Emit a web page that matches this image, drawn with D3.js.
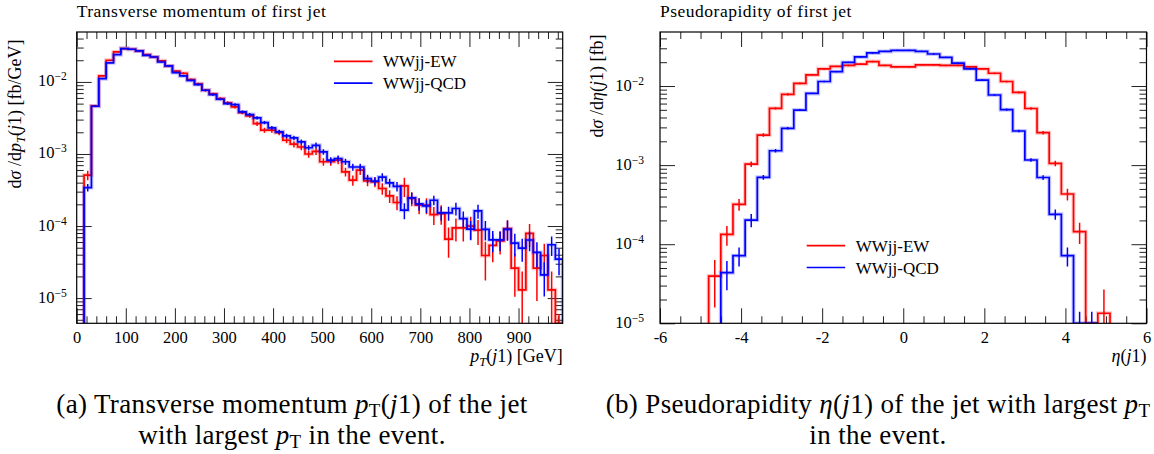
<!DOCTYPE html>
<html>
<head>
<meta charset="utf-8">
<title>WWjj leading jet</title>
<script src="https://cdn.jsdelivr.net/npm/d3@7"></script>
<style>
  body { margin: 0; background: #fff; }
  svg text { font-family: "Liberation Serif", "DejaVu Serif", serif; fill: #000; }
</style>
</head>
<body>
<div id="chart"></div>
<script>
// ---- values ----
const seriesNames = ["WWjj-EW", "WWjj-QCD"];
const seriesColors = ["#ff0000", "#0000ff"];

// pT(j1): 66 bins of 15 GeV, 0..990
const ptEdges = d3.range(0, 991, 15);
const ptEW = [0, 5.1e-4, 4.65e-3, 1.21e-2, 2.0e-2, 2.61e-2, 2.90e-2, 2.84e-2, 2.69e-2, 2.39e-2,
  2.22e-2, 1.96e-2, 1.67e-2, 1.41e-2, 1.32e-2, 1.08e-2, 9.4e-3, 7.66e-3, 6.82e-3, 5.88e-3,
  5.12e-3, 4.5e-3, 3.76e-3, 3.38e-3, 2.64e-3, 2.14e-3, 2.14e-3, 1.98e-3, 1.55e-3, 1.37e-3,
  1.25e-3, 1.0e-3, 1.09e-3, 7.8e-4, 7.8e-4, 8.2e-4, 5.65e-4, 4.33e-4, 5.96e-4, 4.24e-4,
  4.1e-4, 3.32e-4, 2.62e-4, 2.12e-4, 3.61e-4, 2.41e-4, 1.95e-4, 1.95e-4, 1.44e-4, 1.49e-4,
  6.6e-5, 9.4e-5, 9.4e-5, 1.0e-4, 8.8e-5, 3.9e-5, 5.4e-5, 6.2e-5, 9.2e-5, 2.6e-5,
  1.3e-5, 7.9e-5, 2.6e-5, 3.9e-5, 1.3e-5, 3e-6];
// relative stat. errors
const ptEWErr = [0, 0.15, 0.02, 0.015, 0.015, 0.015, 0.015, 0.015, 0.015, 0.02,
  0.02, 0.02, 0.025, 0.025, 0.03, 0.03, 0.035, 0.04, 0.04, 0.045,
  0.05, 0.05, 0.055, 0.06, 0.07, 0.08, 0.08, 0.08, 0.09, 0.1,
  0.1, 0.11, 0.11, 0.12, 0.12, 0.12, 0.14, 0.16, 0.14, 0.16,
  0.16, 0.18, 0.2, 0.22, 0.3, 0.22, 0.25, 0.25, 0.28, 0.3,
  0.45, 0.35, 0.35, 0.35, 0.38, 0.55, 0.42, 0.35, 0.32, 0.6,
  0.8, 0.35, 0.65, 0.45, 0.8, 1.0];
const ptQCD = [0, 3.42e-4, 4.6e-3, 1.11e-2, 1.84e-2, 2.39e-2, 2.90e-2, 2.84e-2, 2.69e-2, 2.34e-2,
  2.22e-2, 1.89e-2, 1.67e-2, 1.35e-2, 1.21e-2, 1.05e-2, 9.2e-3, 7.66e-3, 6.67e-3, 5.75e-3,
  5.0e-3, 4.85e-3, 3.84e-3, 3.52e-3, 3.17e-3, 2.73e-3, 2.30e-3, 2.03e-3, 1.78e-3, 1.67e-3,
  1.47e-3, 1.22e-3, 1.32e-3, 1.07e-3, 8.2e-4, 8.65e-4, 7.8e-4, 6.6e-4, 6.6e-4, 4.56e-4,
  4.2e-4, 4.78e-4, 3.97e-4, 3.55e-4, 1.66e-4, 2.46e-4, 2.03e-4, 1.9e-4, 2.28e-4, 1.52e-4,
  1.52e-4, 1.75e-4, 1.27e-4, 9.05e-5, 1.62e-4, 9.0e-5, 6.44e-5, 6.44e-5, 9.0e-5, 5.8e-5,
  4.93e-5, 6.4e-5, 4.3e-5, 2.1e-5, 5.5e-5, 3.47e-5];
const ptQCDErr = [0, 0.12, 0.02, 0.015, 0.012, 0.012, 0.012, 0.012, 0.012, 0.015,
  0.015, 0.018, 0.02, 0.02, 0.025, 0.025, 0.03, 0.03, 0.035, 0.035,
  0.04, 0.04, 0.045, 0.05, 0.05, 0.055, 0.06, 0.065, 0.07, 0.075,
  0.08, 0.085, 0.09, 0.09, 0.1, 0.1, 0.1, 0.11, 0.11, 0.13,
  0.13, 0.13, 0.14, 0.15, 0.25, 0.18, 0.2, 0.2, 0.15, 0.22,
  0.22, 0.2, 0.25, 0.3, 0.22, 0.3, 0.33, 0.3, 0.3, 0.35,
  0.35, 0.3, 0.38, 0.5, 0.3, 0.4];

// eta(j1): 40 bins of 0.3, -6..6
const etaEdges = d3.range(41).map(i => -6 + 0.3 * i);
const etaEW = [0, 0, 0, 0, 3.96e-5, 1.33e-4, 3.19e-4, 1.03e-3, 2.40e-3, 5.22e-3,
  7.85e-3, 1.08e-2, 1.38e-2, 1.65e-2, 1.77e-2, 1.82e-2, 1.89e-2, 2.04e-2, 1.82e-2, 1.75e-2,
  1.75e-2, 1.85e-2, 1.85e-2, 1.82e-2, 1.82e-2, 1.75e-2, 1.65e-2, 1.45e-2, 1.14e-2, 8.3e-3,
  5.2e-3, 2.57e-3, 1.05e-3, 4.31e-4, 1.44e-4, 0, 1.34e-5, 0, 0, 0];
const etaEWErr = [0, 0, 0, 0, 0.6, 0.28, 0.17, 0.08, 0.05, 0.035,
  0.03, 0.025, 0.02, 0.02, 0.02, 0.02, 0.02, 0.02, 0.02, 0.02,
  0.02, 0.02, 0.02, 0.02, 0.02, 0.02, 0.02, 0.025, 0.025, 0.03,
  0.035, 0.05, 0.08, 0.17, 0.3, 0, 1.0, 0, 0, 0];
const etaQCD = [0, 0, 0, 0, 0, 4.37e-5, 7.16e-5, 2.02e-4, 7.0e-4, 1.52e-3,
  2.92e-3, 4.97e-3, 8.07e-3, 1.14e-2, 1.52e-2, 1.99e-2, 2.33e-2, 2.62e-2, 2.74e-2, 2.82e-2,
  2.82e-2, 2.74e-2, 2.54e-2, 2.30e-2, 1.95e-2, 1.65e-2, 1.19e-2, 7.7e-3, 5.03e-3, 2.70e-3,
  1.16e-3, 6.97e-4, 2.39e-4, 7.16e-5, 7e-6, 7e-6, 0, 0, 0, 0];
const etaQCDErr = [0, 0, 0, 0, 0, 0.4, 0.27, 0.19, 0.07, 0.05,
  0.035, 0.03, 0.02, 0.02, 0.02, 0.02, 0.02, 0.02, 0.02, 0.02,
  0.02, 0.02, 0.02, 0.02, 0.02, 0.02, 0.02, 0.025, 0.03, 0.035,
  0.05, 0.07, 0.15, 0.27, 1.0, 1.0, 0, 0, 0, 0];

// tick values
const ptMajor = d3.range(0, 901, 100);
const ptMinor = d3.range(0, 990, 20).filter(v => v % 100 !== 0);
const etaMajor = [-6, -4, -2, 0, 2, 4, 6];
const etaMinor = d3.range(-6, 6.01, 0.5).filter(v => v % 2 !== 0);
const decades = [-5, -4, -3, -2];
const yMajor = decades.map(d => Math.pow(10, d));
const yMinor = [-6, -5, -4, -3, -2].flatMap(d => d3.range(2, 10).map(m => m * Math.pow(10, d)));

const width = 1154, height = 454;
const svg = d3.select("#chart").append("svg")
  .attr("width", width).attr("height", height);

// text with italic / sub / superscript pieces
function richText(text, parts) {
  let shift = 0;
  parts.forEach(p => {
    const s = p.sub ? 4 : p.sup ? -6 : 0;
    const ts = text.append("tspan").text(p.t).attr("dy", s - shift);
    shift = s;
    if (p.i) ts.attr("font-style", "italic");
    if (p.sub || p.sup) ts.attr("font-size", "0.7em");
  });
}

const panels = [
  {
    id: "pt", box: {x0: 76.7, x1: 562.7, y0: 32, y1: 323.3},
    xDomain: [0, 990], yDomain: [Math.pow(10, -5.35), Math.pow(10, -1.307)],
    edges: ptEdges, vals: [ptEW, ptQCD], errs: [ptEWErr, ptQCDErr],
    xMajor: ptMajor, xMinor: ptMinor, xFormat: d3.format("d"),
    title: "Transverse momentum of first jet",
    yLabel: [{t: "d"}, {t: "σ", i: 1}, {t: " /d"}, {t: "p", i: 1}, {t: "T", i: 1, sub: 1}, {t: "("}, {t: "j", i: 1}, {t: "1) [fb/GeV]"}],
    yLabelPos: [21, 114], yPad: 10,
    xLabel: [{t: "p", i: 1}, {t: "T", i: 1, sub: 1}, {t: "("}, {t: "j", i: 1}, {t: "1) [GeV]"}],
    legend: {x: 334, y: 61.3},
    caption: [[{t: "(a) Transverse momentum "}, {t: "p", i: 1}, {t: "T", sub: 1}, {t: "("}, {t: "j", i: 1}, {t: "1) of the jet"}],
              [{t: "with largest "}, {t: "p", i: 1}, {t: "T", sub: 1}, {t: " in the event."}]],
    captionX: 292
  },
  {
    id: "eta", box: {x0: 660, x1: 1146.5, y0: 32, y1: 323.3},
    xDomain: [-6, 6], yDomain: [1e-5, Math.pow(10, -1.317)],
    edges: etaEdges, vals: [etaEW, etaQCD], errs: [etaEWErr, etaQCDErr],
    xMajor: etaMajor, xMinor: etaMinor, xFormat: d => String(d),
    title: "Pseudorapidity of first jet",
    yLabel: [{t: "d"}, {t: "σ", i: 1}, {t: " /d"}, {t: "η", i: 1}, {t: "("}, {t: "j", i: 1}, {t: "1) [fb]"}],
    yLabelPos: [603, 86], yPad: 16,
    xLabel: [{t: "η", i: 1}, {t: "("}, {t: "j", i: 1}, {t: "1)"}],
    legend: {x: 806.7, y: 245.7},
    caption: [[{t: "(b) Pseudorapidity "}, {t: "η", i: 1}, {t: "("}, {t: "j", i: 1}, {t: "1) of the jet with largest "}, {t: "p", i: 1}, {t: "T", sub: 1}],
              [{t: "in the event."}]],
    captionX: 878
  }
];

function drawPanel(p) {
  const b = p.box;
  const g = svg.append("g");
  const x = d3.scaleLinear().domain(p.xDomain).range([b.x0, b.x1]);
  const y = d3.scaleLog().domain(p.yDomain).range([b.y1, b.y0]).clamp(true);
  const yv = v => y(Math.max(v, 1e-12));

  g.append("clipPath").attr("id", "clip-" + p.id)
    .append("rect").attr("x", b.x0).attr("y", b.y0)
    .attr("width", b.x1 - b.x0).attr("height", b.y1 - b.y0);

  // ticks, all pointing inwards
  const tickG = (axis, tx, ty) => {
    const a = g.append("g").attr("transform", `translate(${tx},${ty})`).call(axis);
    a.select(".domain").remove();
    a.attr("color", "#222").attr("font-size", 16.5).attr("font-family", null);
    return a;
  };
  const bottom = tickG(d3.axisBottom(x).tickValues(p.xMajor).tickSize(-15).tickFormat(p.xFormat), 0, b.y1);
  bottom.selectAll("text").attr("y", 20).attr("dy", null);
  tickG(d3.axisBottom(x).tickValues(p.xMinor).tickSize(-7).tickFormat(""), 0, b.y1);
  tickG(d3.axisTop(x).tickValues(p.xMajor).tickSize(-15).tickFormat(""), 0, b.y0);
  tickG(d3.axisTop(x).tickValues(p.xMinor).tickSize(-7).tickFormat(""), 0, b.y0);

  const left = tickG(d3.axisLeft(y).tickValues(yMajor).tickSize(-15).tickFormat(""), b.x0, 0);
  left.selectAll(".tick").append("text")
    .attr("x", -p.yPad).attr("y", 4).attr("text-anchor", "end").attr("font-size", 16.5)
    .each(function(d) {
      richText(d3.select(this), [{t: "10"}, {t: "−" + Math.round(-Math.log10(d)), sup: 1}]);
    });
  const yMinorIn = yMinor.filter(v => v >= p.yDomain[0] && v <= p.yDomain[1]);
  tickG(d3.axisLeft(y).tickValues(yMinorIn).tickSize(-7).tickFormat(""), b.x0, 0);
  tickG(d3.axisRight(y).tickValues(yMajor).tickSize(-15).tickFormat(""), b.x1, 0);
  tickG(d3.axisRight(y).tickValues(yMinorIn).tickSize(-7).tickFormat(""), b.x1, 0);

  // histograms + error bars (only between first and last filled bin)
  const line = d3.line().curve(d3.curveStepAfter).x(d => x(d[0])).y(d => yv(d[1]));
  const plot = g.append("g").attr("clip-path", `url(#clip-${p.id})`);
  p.vals.forEach((vals, s) => {
    const first = vals.findIndex(v => v > 0);
    let last = vals.length - 1;
    while (vals[last] <= 0) last--;
    const pts = [[p.edges[first], 0]];
    for (let i = first; i <= last; i++) pts.push([p.edges[i], vals[i]]);
    pts.push([p.edges[last + 1], vals[last]], [p.edges[last + 1], 0]);
    const errs = p.errs[s];
    const bars = vals.map((v, i) => ({v, r: errs[i], xc: (p.edges[i] + p.edges[i + 1]) / 2}))
      .filter(d => d.v > 0 && d.r > 0);
    plot.append("path").attr("d", line(pts)).attr("fill", "none")
      .attr("stroke", seriesColors[s]).attr("stroke-opacity", 0.22).attr("stroke-width", 4);
    plot.append("path").attr("d", line(pts)).attr("fill", "none")
      .attr("stroke", seriesColors[s]).attr("stroke-width", 1.7);
    plot.selectAll(null).data(bars).enter().append("line")
      .attr("x1", d => x(d.xc)).attr("x2", d => x(d.xc))
      .attr("y1", d => yv(d.v * (1 + d.r))).attr("y2", d => yv(d.v * (1 - d.r)))
      .attr("stroke", seriesColors[s]).attr("stroke-width", 1.5);
  });

  // frame
  g.append("rect").attr("x", b.x0).attr("y", b.y0)
    .attr("width", b.x1 - b.x0).attr("height", b.y1 - b.y0)
    .attr("fill", "none").attr("stroke", "#000").attr("stroke-width", 1.2);

  // legend
  seriesNames.forEach((name, s) => {
    const ly = p.legend.y + s * 21.8;
    g.append("line").attr("x1", p.legend.x).attr("x2", p.legend.x + 38.5)
      .attr("y1", ly).attr("y2", ly).attr("stroke", seriesColors[s]).attr("stroke-width", 1.7);
    g.append("text").attr("x", p.legend.x + 49).attr("y", ly + 6)
      .attr("font-size", 17).text(name);
  });

  // title and axis labels
  g.append("text").attr("x", b.x0).attr("y", 17).attr("font-size", 17.5)
    .attr("letter-spacing", 0.5).text(p.title);
  const yl = g.append("text").attr("font-size", 18).attr("text-anchor", "middle")
    .attr("transform", `translate(${p.yLabelPos[0]},${p.yLabelPos[1]}) rotate(-90)`);
  richText(yl, p.yLabel);
  const xl = g.append("text").attr("font-size", 18).attr("text-anchor", "end")
    .attr("x", b.x1).attr("y", 362);
  richText(xl, p.xLabel);

  // sub-figure caption
  p.caption.forEach((parts, k) => {
    const c = svg.append("text").attr("x", p.captionX).attr("y", 413 + k * 31)
      .attr("text-anchor", "middle").attr("font-size", 27).attr("letter-spacing", 0.35);
    richText(c, parts);
  });
}

panels.forEach(drawPanel);
</script>
</body>
</html>
